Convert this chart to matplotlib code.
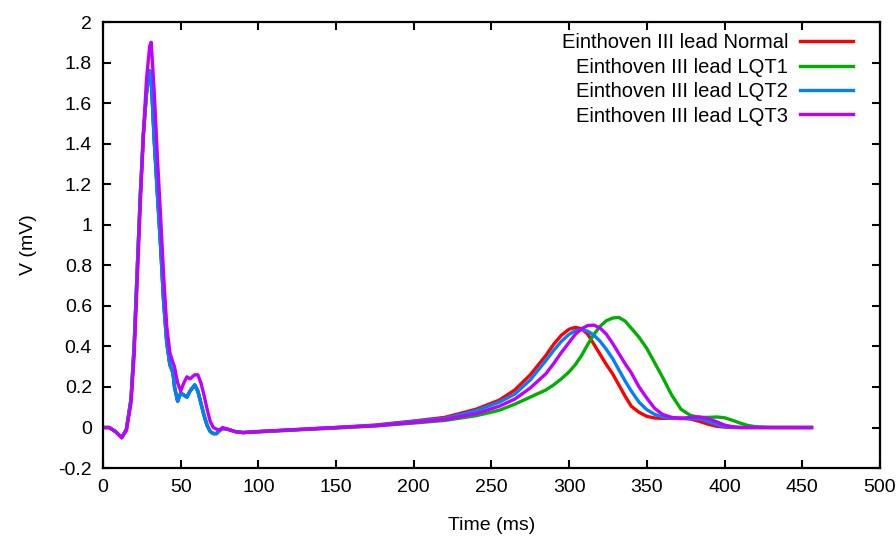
import matplotlib
matplotlib.use("Agg")
import matplotlib.pyplot as plt

# ECG lead III traces (Einthoven)

# QRS complex: Normal, LQT1 and LQT2 overlap here, LQT3 peaks higher
qrs_t = [0, 4, 8, 12, 15, 18, 20, 22, 24, 26, 28, 30, 31, 33, 35, 37, 39, 41, 43, 45,
         46, 48, 50, 52, 54, 56, 59, 61, 63, 65, 67, 69, 71, 73, 75, 77, 80]
qrs_common = [0, 0, -0.02, -0.05, -0.01, 0.14, 0.4, 0.78, 1.15, 1.45,
              1.65, 1.76, 1.72, 1.41, 1.15, 0.9, 0.62, 0.42, 0.31, 0.27,
              0.2, 0.13, 0.17, 0.16, 0.15, 0.18, 0.21, 0.18, 0.12, 0.06,
              0.01, -0.02, -0.03, -0.03, -0.015, -0.005, -0.008]
qrs_lqt3 = [0, 0, -0.02, -0.05, -0.015, 0.12, 0.35, 0.72, 1.1, 1.45,
            1.72, 1.88, 1.9, 1.65, 1.33, 1.05, 0.75, 0.5, 0.37, 0.32,
            0.3, 0.22, 0.18, 0.22, 0.25, 0.24, 0.26, 0.26, 0.22, 0.16,
            0.09, 0.03, 0.0, -0.008, -0.012, 0.0, -0.008]

# ST segment and T wave
tw_t = [85, 90, 100, 125, 150, 175, 200, 220, 240, 255, 265, 275, 285, 290, 295, 300,
        304, 308, 312, 316, 320, 324, 328, 332, 336, 340, 345, 350, 355, 360, 366,
        372, 378, 384, 390, 395, 400, 405, 410, 415, 420, 430, 440, 456]
tw_normal = [-0.02, -0.025, -0.02, -0.01, 0.0, 0.012, 0.032, 0.05, 0.09, 0.135, 0.185,
             0.26, 0.355, 0.41, 0.455, 0.485, 0.494, 0.487, 0.46, 0.41, 0.36, 0.31,
             0.265, 0.21, 0.155, 0.105, 0.075, 0.055, 0.047, 0.045, 0.046, 0.047,
             0.042, 0.03, 0.015, 0.006, 0.002, 0, 0, 0, 0, 0, 0, 0]
tw_lqt1 = [-0.02, -0.025, -0.022, -0.012, -0.003, 0.008, 0.022, 0.035, 0.058, 0.085,
           0.115, 0.15, 0.185, 0.21, 0.24, 0.275, 0.31, 0.355, 0.41, 0.46, 0.5, 0.527,
           0.54, 0.543, 0.525, 0.49, 0.445, 0.39, 0.32, 0.25, 0.16, 0.09, 0.06, 0.05,
           0.05, 0.052, 0.048, 0.036, 0.022, 0.01, 0.004, 0, 0, 0]
tw_lqt2 = [-0.02, -0.025, -0.02, -0.01, 0.0, 0.01, 0.03, 0.045, 0.083, 0.125, 0.165,
           0.235, 0.33, 0.38, 0.425, 0.46, 0.478, 0.483, 0.475, 0.455, 0.425, 0.385,
           0.34, 0.285, 0.23, 0.18, 0.125, 0.088, 0.065, 0.052, 0.046, 0.044, 0.044,
           0.043, 0.028, 0.015, 0.005, 0.001, 0, 0, 0, 0, 0, 0]
tw_lqt3 = [-0.02, -0.025, -0.02, -0.01, 0.0, 0.008, 0.025, 0.04, 0.068, 0.105, 0.14,
           0.195, 0.265, 0.315, 0.37, 0.42, 0.46, 0.487, 0.503, 0.505, 0.49, 0.46,
           0.415, 0.365, 0.315, 0.27, 0.2, 0.145, 0.095, 0.065, 0.05, 0.045, 0.05,
           0.052, 0.042, 0.028, 0.012, 0.004, 0, 0, 0, 0, 0, 0]

labels = ["Einthoven III lead Normal", "Einthoven III lead LQT1",
          "Einthoven III lead LQT2", "Einthoven III lead LQT3"]
colors = ["#ff0000", "#00b000", "#0080ff", "#c000ff"]

x_ticks = [0, 50, 100, 150, 200, 250, 300, 350, 400, 450, 500]
y_ticks = [-0.2, 0, 0.2, 0.4, 0.6, 0.8, 1, 1.2, 1.4, 1.6, 1.8, 2]
y_tick_labels = ["-0.2", "0", "0.2", "0.4", "0.6", "0.8", "1", "1.2", "1.4", "1.6", "1.8", "2"]

plt.rcParams["font.family"] = ["Liberation Sans", "DejaVu Sans"]
plt.rcParams["axes.unicode_minus"] = False

fig = plt.figure(figsize=(8.96, 5.38), dpi=100)
ax = fig.add_axes([0.115, 0.130, 0.867, 0.829])

series = [qrs_common + tw_normal, qrs_common + tw_lqt1,
          qrs_common + tw_lqt2, qrs_lqt3 + tw_lqt3]
t_all = qrs_t + tw_t
for vals, lab, col in zip(series, labels, colors):
    ax.plot(t_all, vals, color=col, lw=2.4, label=lab, solid_joinstyle="round")

ax.set_xlim(0, 500)
ax.set_ylim(-0.2, 2)
ax.set_xticks(x_ticks)
ax.set_yticks(y_ticks)
ax.set_yticklabels(y_tick_labels)
ax.tick_params(direction="in", length=6, width=1.5, top=True, right=True,
               labelsize=14, pad=8)
for sp in ax.spines.values():
    sp.set_linewidth(1.6)

ax.set_xlabel("Time (ms)", fontsize=14, labelpad=15)
ax.set_ylabel("V (mV)", fontsize=14, labelpad=15)

ax.legend(loc="upper right", bbox_to_anchor=(0.965, 0.975), frameon=False,
          markerfirst=False, fontsize=14.5, handlelength=2.6, handletextpad=0.6,
          labelspacing=0.27, borderpad=0, borderaxespad=0)

fig.savefig("out.png", dpi=100)
